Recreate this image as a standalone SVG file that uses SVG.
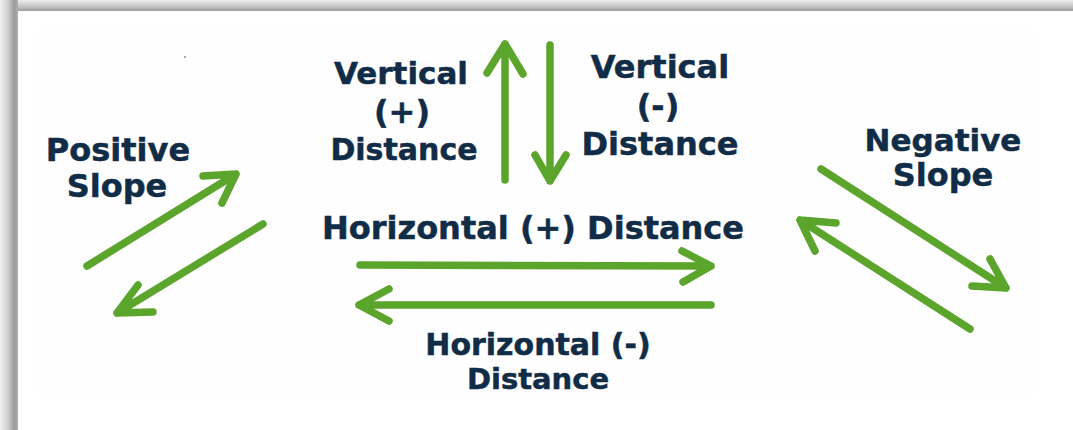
<svg xmlns="http://www.w3.org/2000/svg" width="1073" height="430" viewBox="0 0 1073 430">
<defs>
<linearGradient id="topband" x1="0" y1="0" x2="0" y2="1">
<stop offset="0" stop-color="#ececec"/>
<stop offset="0.6" stop-color="#c4c4c4"/>
<stop offset="1" stop-color="#9c9c9c"/>
</linearGradient>
<linearGradient id="leftband" x1="0" y1="0" x2="1" y2="0">
<stop offset="0" stop-color="#f2f2f2"/>
<stop offset="0.45" stop-color="#cfcfcf"/>
<stop offset="0.8" stop-color="#9a9a9a"/>
<stop offset="1" stop-color="#b0b0b0"/>
</linearGradient>
<style>
.t{font-family:"DejaVu Sans","Verdana",sans-serif;font-weight:bold;font-size:32px;fill:#112c47;stroke:#112c47;stroke-width:0.5;text-anchor:middle}
.s31{font-size:31px}
.s30{font-size:30px}
.s29{font-size:29px}
.a{fill:none;stroke:#5ca52c;stroke-width:7.5;stroke-linecap:round;stroke-linejoin:round}
</style>
</defs>
<rect width="1073" height="430" fill="#ffffff"/>
<rect x="0" y="0" width="1073" height="11" fill="url(#topband)"/>
<rect x="0" y="0" width="18" height="430" fill="url(#leftband)"/>
<rect x="38" y="30" width="997" height="365" fill="#fefefe"/>
<circle cx="185" cy="57" r="1" fill="#8a8a8a"/>

<g id="connectors">
<g id="vertical-up"><path class="a" d="M505,180 L505,44 M487,73 L505,44 L523,74"/></g>
<g id="vertical-down"><path class="a" d="M550,45 L550,181 M535,155 L550,181 L566,155"/></g>
<g id="horizontal-right"><path class="a" d="M360,265 L711,266 M682,251 L711,266 L683,282"/></g>
<g id="horizontal-left"><path class="a" d="M711,305 L359,305 M389,289 L359,305 L389,321"/></g>
<g id="positive-up"><path class="a" d="M87,266 L236,174 M203,176 L236,174 L222,203"/></g>
<g id="positive-down"><path class="a" d="M263,224 L117,313 M138,285 L117,313 L153,312"/></g>
<g id="negative-down"><path class="a" d="M821,169 L1006,288 M990,259 L1006,288 L972,286"/></g>
<g id="negative-up"><path class="a" d="M970,329 L800,220 M836,223 L800,220 L815,251"/></g>
</g>

<g id="positive-slope"><text class="t" x="118" y="161">Positive</text><text class="t" x="117" y="197">Slope</text></g>
<g id="negative-slope"><text class="t s31" x="943" y="151">Negative</text><text class="t" x="943" y="186">Slope</text></g>
<g id="vertical-plus"><text class="t s31" x="401" y="84">Vertical</text><text class="t" x="402" y="123">(+)</text><text class="t s30" x="404" y="160">Distance</text></g>
<g id="vertical-minus"><text class="t" x="660" y="78">Vertical</text><text class="t" x="658" y="117">(-)</text><text class="t" x="660" y="155">Distance</text></g>
<g id="horizontal-plus"><text class="t" x="533" y="239">Horizontal (+) Distance</text></g>
<g id="horizontal-minus"><text class="t s30" x="538" y="355">Horizontal (-)</text><text class="t s29" x="538" y="389">Distance</text></g>
</svg>
